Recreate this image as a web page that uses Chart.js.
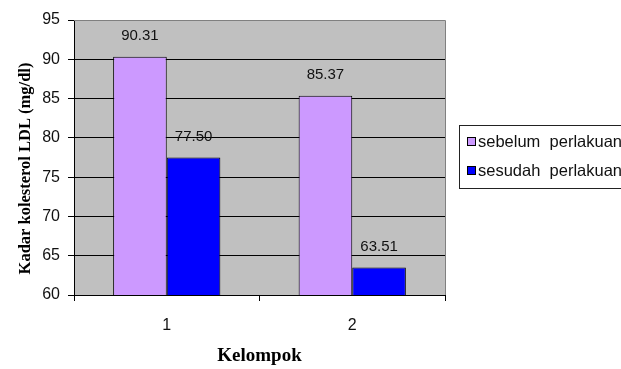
<!DOCTYPE html>
<html>
<head>
<meta charset="utf-8">
<script src="https://cdn.jsdelivr.net/npm/chart.js@4/dist/chart.umd.min.js"></script>
<style>
  html, body { margin: 0; padding: 0; background: #fff; }
  #wrap { width: 621px; height: 369px; position: relative; }
</style>
</head>
<body>
<div id="wrap"><canvas id="c" width="621" height="369"></canvas></div>
<script>
// Kelompok (group) labels and LDL cholesterol values (mg/dl)
const kelompok = ['1', '2'];
const sebelum = [90.31, 85.37];
const sesudah = [77.50, 63.51];
const seriesNames = ['sebelum  perlakuan', 'sesudah  perlakuan'];
const yTitle = 'Kadar kolesterol LDL (mg/dl)';
const xTitle = 'Kelompok';
const yMin = 60, yMax = 95, yStep = 5;

const PLOT_LEFT = 74, PLOT_BOTTOM = 295, PLOT_RIGHT = 445;
const PAD = { left: 12, top: 20, right: 621 - PLOT_RIGHT, bottom: 2 };
const SERIF = '"Liberation Serif", "Times New Roman", serif';
const SANS = '"Liberation Sans", Arial, sans-serif';

// gray plot background with a gray frame on top and right
const plotBg = {
  id: 'plotBg',
  beforeDraw(chart) {
    const { ctx, chartArea: a } = chart;
    ctx.save();
    ctx.fillStyle = '#C0C0C0';
    ctx.fillRect(a.left, a.top, a.right - a.left, a.bottom - a.top);
    ctx.restore();
  },
  afterDatasetsDraw(chart) {
    const { ctx, chartArea: a } = chart;
    ctx.save();
    ctx.strokeStyle = '#808080';
    ctx.lineWidth = 1;
    ctx.beginPath();
    ctx.moveTo(a.left, Math.round(a.top) + 0.5);
    ctx.lineTo(Math.round(a.right) + 0.5, Math.round(a.top) + 0.5);
    ctx.lineTo(Math.round(a.right) + 0.5, a.bottom);
    ctx.stroke();
    ctx.restore();
  }
};

// value labels above each bar
const valueLabels = {
  id: 'valueLabels',
  afterDatasetsDraw(chart) {
    const { ctx } = chart;
    ctx.save();
    ctx.font = '15px ' + SANS;
    ctx.fillStyle = '#111';
    ctx.textAlign = 'center';
    ctx.textBaseline = 'middle';
    chart.data.datasets.forEach((ds, i) => {
      chart.getDatasetMeta(i).data.forEach((bar, j) => {
        ctx.fillText(ds.data[j].toFixed(2), bar.x, bar.y - 21);
      });
    });
    ctx.restore();
  }
};

// rotated y-axis title, placed a little below the axis middle
const yAxisTitle = {
  id: 'yAxisTitle',
  afterDraw(chart) {
    const { ctx } = chart;
    ctx.save();
    ctx.translate(26, 168.5);
    ctx.rotate(-Math.PI / 2);
    ctx.font = 'bold 16.5px ' + SERIF;
    ctx.fillStyle = '#000';
    ctx.textAlign = 'center';
    ctx.textBaseline = 'middle';
    ctx.fillText(yTitle, 0, 0);
    ctx.restore();
  }
};

// boxed legend on the right side
const boxLegend = {
  id: 'boxLegend',
  afterDraw(chart) {
    const { ctx } = chart;
    const x0 = 459, y0 = 125, h = 63;
    ctx.save();
    ctx.fillStyle = '#fff';
    ctx.fillRect(x0 + 0.5, y0 + 0.5, 200, h);
    ctx.strokeStyle = '#222';
    ctx.lineWidth = 1;
    ctx.strokeRect(x0 + 0.5, y0 + 0.5, 200, h);
    ctx.font = '16.5px ' + SANS;
    ctx.textBaseline = 'middle';
    ctx.textAlign = 'left';
    const rows = [142, 171];
    chart.data.datasets.forEach((ds, i) => {
      const yc = rows[i];
      ctx.fillStyle = ds.backgroundColor;
      ctx.fillRect(467.5, yc - 4.5, 8, 8);
      ctx.strokeStyle = '#000';
      ctx.strokeRect(467.5, yc - 4.5, 8, 8);
      ctx.fillStyle = '#111';
      ctx.fillText(ds.label, 478, yc);
    });
    ctx.restore();
  }
};

new Chart(document.getElementById('c'), {
  type: 'bar',
  data: {
    labels: kelompok,
    datasets: [
      { label: seriesNames[0], data: sebelum, backgroundColor: '#CC99FF', borderColor: '#000', borderWidth: 1 },
      { label: seriesNames[1], data: sesudah, backgroundColor: '#0000FF', borderColor: '#000', borderWidth: 1 }
    ]
  },
  options: {
    responsive: false,
    animation: false,
    events: [],
    layout: { padding: PAD },
    datasets: { bar: { categoryPercentage: 0.578, barPercentage: 1.0 } },
    plugins: { legend: { display: false }, tooltip: { enabled: false } },
    scales: {
      x: {
        afterFit(s) { s.height = 369 - PAD.bottom - PLOT_BOTTOM; },
        grid: { offset: true, drawOnChartArea: false, drawTicks: true, tickLength: 6, color: '#000', lineWidth: 1 },
        border: { display: true, color: '#000', width: 1 },
        ticks: { color: '#111', padding: 15, font: { family: SANS, size: 16 } },
        title: {
          display: true, text: xTitle, color: '#000',
          padding: { top: 0, bottom: 0 },
          font: { family: SERIF, size: 19, weight: 'bold' }
        }
      },
      y: {
        min: yMin, max: yMax,
        afterFit(s) { s.width = PLOT_LEFT - PAD.left; },
        grid: { drawTicks: true, tickLength: 6, lineWidth: 1, color: '#000' },
        border: { display: true, color: '#000', width: 1 },
        ticks: { stepSize: yStep, color: '#111', padding: 8, font: { family: SANS, size: 16 } },
        title: { display: false }
      }
    }
  },
  plugins: [plotBg, valueLabels, yAxisTitle, boxLegend]
});
</script>
</body>
</html>
